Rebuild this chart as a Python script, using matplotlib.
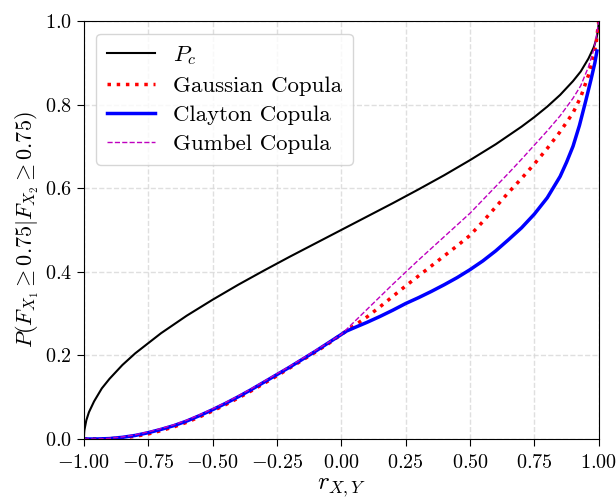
import matplotlib
matplotlib.use("Agg")
import matplotlib.pyplot as plt

plt.rcParams['font.family'] = 'serif'
plt.rcParams['font.serif'] = ['cmr10']
plt.rcParams['mathtext.fontset'] = 'cm'
plt.rcParams['axes.formatter.use_mathtext'] = True

# P_c curve
r_pc = [-1.0, -0.998, -0.99, -0.98, -0.96, -0.93, -0.9, -0.85, -0.8, -0.75, -0.7, -0.6, -0.5,
        -0.4, -0.3, -0.2, -0.1, 0.0, 0.1, 0.2, 0.3, 0.4, 0.5, 0.6, 0.7, 0.75, 0.8, 0.85,
        0.9, 0.93, 0.96, 0.98, 0.99, 0.998, 1.0]
p_pc = [0.0, 0.02, 0.045, 0.064, 0.090, 0.121, 0.144, 0.177, 0.205, 0.229, 0.253, 0.295, 0.333,
        0.369, 0.403, 0.436, 0.468, 0.5, 0.532, 0.564, 0.597, 0.631, 0.667, 0.705, 0.747, 0.77, 0.795, 0.823,
        0.856, 0.879, 0.91, 0.936, 0.955, 0.98, 1.0]

# Negative-correlation part
r_neg = [-1.0, -0.95, -0.9, -0.85, -0.8, -0.75, -0.7, -0.65, -0.6, -0.55, -0.5, -0.45, -0.4,
         -0.35, -0.3, -0.25, -0.2, -0.15, -0.1, -0.05, 0.0]
p_neg_gauss = [0.0, 0.0, 0.0006, 0.0025, 0.0065, 0.012, 0.02, 0.029, 0.04, 0.053, 0.067, 0.082, 0.098,
               0.115, 0.133, 0.151, 0.170, 0.189, 0.208, 0.228, 0.25]
p_neg_clay = [0.0, 0.0, 0.001, 0.004, 0.0085, 0.015, 0.023, 0.032, 0.043, 0.056, 0.070, 0.085, 0.101,
              0.118, 0.136, 0.154, 0.172, 0.191, 0.210, 0.230, 0.25]
p_neg_gumb = [0.0, 0.0, 0.0015, 0.005, 0.010, 0.017, 0.025, 0.034, 0.045, 0.058, 0.072, 0.087, 0.103,
              0.120, 0.138, 0.156, 0.174, 0.193, 0.212, 0.231, 0.25]

# Positive-correlation part
r_pos = [0.05, 0.1, 0.15, 0.2, 0.25, 0.3, 0.35, 0.4, 0.45, 0.5, 0.55, 0.6, 0.65, 0.7, 0.75,
         0.8, 0.85, 0.9, 0.93, 0.96, 0.98, 0.99, 1.0]
p_pos_gauss = [0.271, 0.292, 0.316, 0.341, 0.366, 0.39, 0.414, 0.438, 0.462, 0.487, 0.52, 0.555,
               0.59, 0.623, 0.658, 0.695, 0.735, 0.78, 0.818, 0.87, 0.915, 0.948, 1.0]
p_pos_gumb = [0.28, 0.31, 0.34, 0.37, 0.399, 0.428, 0.456, 0.484, 0.512, 0.54, 0.572, 0.604,
              0.636, 0.669, 0.703, 0.737, 0.773, 0.815, 0.845, 0.89, 0.93, 0.96, 1.0]

r_pos_clay = [0.02, 0.05, 0.1, 0.15, 0.2, 0.25, 0.3, 0.35, 0.4, 0.45, 0.5, 0.55, 0.6, 0.65, 0.7,
              0.75, 0.8, 0.85, 0.875, 0.9, 0.925, 0.95, 0.97, 0.985, 0.993]
p_pos_clay = [0.258, 0.266, 0.279, 0.293, 0.308, 0.324, 0.338, 0.353, 0.369, 0.386, 0.405, 0.426,
              0.45, 0.477, 0.505, 0.538, 0.577, 0.628, 0.662, 0.70, 0.75, 0.81, 0.86, 0.90, 0.928]

xticks = [-1, -0.75, -0.5, -0.25, 0, 0.25, 0.5, 0.75, 1]
yticks = [0, 0.2, 0.4, 0.6, 0.8, 1.0]

fig = plt.figure(figsize=(6.16, 4.98), dpi=100)
ax = fig.add_axes([0.136, 0.1185, 0.836, 0.8395])

ax.plot(r_pc, p_pc, color='k', lw=1.5, label=r'$P_c$')
ax.plot(r_neg + r_pos, p_neg_gauss + p_pos_gauss, color='r', ls=':', lw=2.5, label='Gaussian Copula')
ax.plot(r_neg + r_pos_clay, p_neg_clay + p_pos_clay, color='b', lw=2.5, label='Clayton Copula')
ax.plot(r_neg + r_pos, p_neg_gumb + p_pos_gumb, color='m', ls='--', lw=1.0, label='Gumbel Copula')

ax.set_xlim(-1, 1)
ax.set_ylim(0, 1)
ax.set_xticks(xticks)
ax.set_xticklabels([f'${v:.2f}$' for v in xticks])
ax.set_yticks(yticks)
ax.set_yticklabels([f'${v:.1f}$' for v in yticks])
ax.tick_params(labelsize=14.5, length=5)
ax.tick_params(axis='x', pad=6)
ax.grid(True, ls='--', color='#d8d8d8', lw=1.0, alpha=0.8)
ax.set_xlabel(r'$r_{X,Y}$', fontsize=18, labelpad=3)
ax.set_ylabel(r'$P(F_{X_1} \geq 0.75 | F_{X_2} \geq 0.75)$', fontsize=16, labelpad=3)
leg = ax.legend(loc='upper left', fontsize=16.5, framealpha=0.8, edgecolor='#cccccc',
                handlelength=2.1, borderpad=0.45, labelspacing=0.4, borderaxespad=0.55)

fig.savefig('out.png', dpi=100)
